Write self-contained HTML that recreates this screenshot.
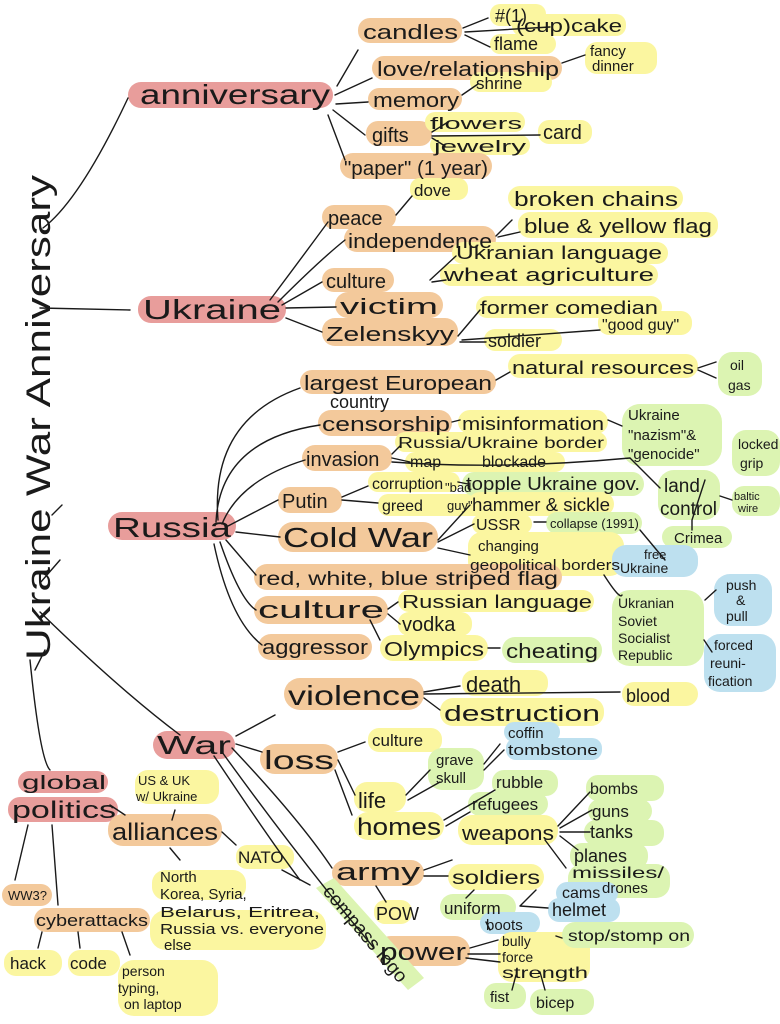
<!DOCTYPE html>
<html><head><meta charset="utf-8"><style>
html,body{margin:0;padding:0;background:#fff;width:780px;height:1024px;overflow:hidden}
svg{display:block}
text{font-family:"Liberation Sans",sans-serif;fill:#1a1a1a}
.p{fill:#e89d9b}.o{fill:#f3c99b}.y{fill:#fbf6a0}.g{fill:#dcf4b2}.b{fill:#bde0ef}
path{fill:none;stroke:#1a1a1a;stroke-width:1.4;stroke-linecap:round}
</style></head><body>
<svg width="780" height="1024" viewBox="0 0 780 1024" xmlns="http://www.w3.org/2000/svg">
<!-- highlights -->
<g>
<rect class="p" x="128" y="82" width="205" height="26" rx="13"/>
<rect class="o" x="358" y="18" width="104" height="25" rx="12"/>
<rect class="y" x="490" y="4" width="56" height="22" rx="10"/>
<rect class="y" x="512" y="14" width="114" height="22" rx="10"/>
<rect class="y" x="490" y="34" width="66" height="20" rx="10"/>
<rect class="o" x="372" y="56" width="190" height="24" rx="12"/>
<rect class="y" x="585" y="42" width="72" height="32" rx="12"/>
<rect class="o" x="368" y="88" width="94" height="22" rx="11"/>
<rect class="y" x="470" y="72" width="82" height="20" rx="10"/>
<rect class="o" x="366" y="121" width="66" height="25" rx="12"/>
<rect class="y" x="425" y="112" width="100" height="20" rx="10"/>
<rect class="y" x="430" y="135" width="100" height="20" rx="10"/>
<rect class="y" x="538" y="120" width="54" height="24" rx="11"/>
<rect class="o" x="340" y="153" width="152" height="26" rx="13"/>
<rect class="y" x="410" y="178" width="58" height="22" rx="10"/>
<rect class="o" x="322" y="205" width="74" height="24" rx="12"/>
<rect class="o" x="344" y="226" width="152" height="26" rx="13"/>
<rect class="y" x="508" y="186" width="175" height="24" rx="12"/>
<rect class="y" x="518" y="212" width="200" height="26" rx="12"/>
<rect class="o" x="322" y="268" width="72" height="24" rx="12"/>
<rect class="y" x="452" y="242" width="216" height="22" rx="11"/>
<rect class="y" x="440" y="264" width="218" height="22" rx="11"/>
<rect class="o" x="335" y="292" width="108" height="26" rx="13"/>
<rect class="o" x="322" y="318" width="136" height="28" rx="13"/>
<rect class="y" x="476" y="296" width="186" height="22" rx="11"/>
<rect class="y" x="598" y="311" width="94" height="24" rx="11"/>
<rect class="y" x="484" y="329" width="78" height="22" rx="11"/>
<rect class="p" x="138" y="296" width="148" height="27" rx="13"/>
<!-- Russia -->
<rect class="o" x="300" y="370" width="196" height="24" rx="12"/>
<rect class="y" x="508" y="354" width="190" height="24" rx="12"/>
<rect class="g" x="718" y="352" width="44" height="44" rx="14"/>
<rect class="o" x="318" y="410" width="134" height="26" rx="13"/>
<rect class="y" x="458" y="410" width="150" height="24" rx="12"/>
<rect class="g" x="622" y="404" width="100" height="62" rx="18"/>
<rect class="o" x="302" y="445" width="90" height="26" rx="13"/>
<rect class="y" x="395" y="432" width="212" height="20" rx="10"/>
<rect class="y" x="405" y="452" width="160" height="20" rx="10"/>
<rect class="y" x="368" y="472" width="92" height="20" rx="10"/>
<rect class="y" x="378" y="494" width="110" height="22" rx="10"/>
<rect class="g" x="462" y="472" width="182" height="24" rx="12"/>
<rect class="o" x="278" y="487" width="64" height="26" rx="12"/>
<rect class="g" x="658" y="470" width="62" height="50" rx="16"/>
<rect class="g" x="732" y="430" width="48" height="46" rx="14"/>
<rect class="g" x="732" y="486" width="48" height="30" rx="12"/>
<rect class="p" x="108" y="512" width="128" height="28" rx="14"/>
<rect class="o" x="278" y="522" width="160" height="30" rx="15"/>
<rect class="y" x="468" y="492" width="146" height="24" rx="12"/>
<rect class="y" x="472" y="514" width="60" height="20" rx="10"/>
<rect class="g" x="546" y="512" width="96" height="22" rx="11"/>
<rect class="y" x="468" y="532" width="156" height="44" rx="14"/>
<rect class="g" x="662" y="526" width="70" height="22" rx="11"/>
<rect class="b" x="612" y="545" width="86" height="32" rx="14"/>
<rect class="o" x="254" y="564" width="308" height="26" rx="13"/>
<rect class="o" x="254" y="596" width="134" height="28" rx="14"/>
<rect class="y" x="398" y="590" width="196" height="22" rx="11"/>
<rect class="y" x="398" y="612" width="74" height="24" rx="11"/>
<rect class="o" x="258" y="634" width="114" height="26" rx="13"/>
<rect class="y" x="380" y="635" width="108" height="26" rx="13"/>
<rect class="g" x="502" y="637" width="100" height="26" rx="13"/>
<rect class="g" x="612" y="590" width="92" height="76" rx="18"/>
<rect class="b" x="714" y="574" width="58" height="52" rx="16"/>
<rect class="b" x="704" y="634" width="72" height="58" rx="16"/>
<!-- War -->
<rect class="o" x="284" y="678" width="140" height="32" rx="16"/>
<rect class="y" x="462" y="670" width="86" height="26" rx="12"/>
<rect class="y" x="440" y="698" width="164" height="28" rx="13"/>
<rect class="y" x="622" y="682" width="76" height="24" rx="12"/>
<rect class="p" x="153" y="731" width="82" height="28" rx="14"/>
<rect class="o" x="260" y="744" width="78" height="30" rx="15"/>
<rect class="y" x="368" y="728" width="74" height="24" rx="11"/>
<rect class="b" x="504" y="722" width="56" height="20" rx="10"/>
<rect class="b" x="506" y="738" width="96" height="22" rx="10"/>
<rect class="g" x="428" y="748" width="56" height="42" rx="14"/>
<rect class="y" x="354" y="782" width="52" height="30" rx="13"/>
<rect class="g" x="492" y="770" width="66" height="26" rx="12"/>
<rect class="g" x="468" y="792" width="80" height="24" rx="12"/>
<rect class="y" x="354" y="812" width="90" height="28" rx="14"/>
<rect class="y" x="458" y="815" width="100" height="30" rx="14"/>
<rect class="g" x="586" y="775" width="78" height="26" rx="12"/>
<rect class="g" x="588" y="799" width="64" height="24" rx="12"/>
<rect class="g" x="584" y="820" width="80" height="26" rx="12"/>
<rect class="g" x="570" y="843" width="78" height="26" rx="12"/>
<rect class="g" x="568" y="864" width="102" height="34" rx="14"/>
<rect class="o" x="332" y="860" width="92" height="26" rx="13"/>
<rect class="y" x="448" y="864" width="96" height="26" rx="13"/>
<rect class="b" x="556" y="882" width="62" height="22" rx="11"/>
<rect class="g" x="440" y="894" width="76" height="26" rx="13"/>
<rect class="b" x="548" y="898" width="72" height="24" rx="11"/>
<rect class="b" x="480" y="912" width="60" height="22" rx="11"/>
<rect class="y" x="374" y="900" width="38" height="24" rx="11"/>
<rect class="o" x="376" y="936" width="94" height="30" rx="15"/>
<rect class="y" x="498" y="932" width="92" height="50" rx="14"/>
<rect class="g" x="562" y="922" width="132" height="26" rx="13"/>
<rect class="g" x="484" y="983" width="42" height="26" rx="12"/>
<rect class="g" x="530" y="989" width="64" height="26" rx="12"/>
<polygon class="g" points="316,888 334,878 424,978 408,990"/>
<!-- global politics -->
<rect class="p" x="18" y="771" width="90" height="22" rx="11"/>
<rect class="p" x="8" y="797" width="110" height="25" rx="12"/>
<rect class="y" x="135" y="770" width="84" height="34" rx="13"/>
<rect class="o" x="108" y="814" width="114" height="32" rx="15"/>
<rect class="y" x="236" y="845" width="58" height="24" rx="11"/>
<rect class="y" x="152" y="870" width="94" height="30" rx="13"/>
<rect class="y" x="150" y="910" width="176" height="40" rx="16"/>
<rect class="o" x="2" y="884" width="50" height="22" rx="11"/>
<rect class="o" x="34" y="908" width="116" height="24" rx="12"/>
<rect class="y" x="4" y="950" width="58" height="26" rx="12"/>
<rect class="y" x="68" y="950" width="52" height="26" rx="12"/>
<rect class="y" x="118" y="960" width="100" height="56" rx="16"/>
</g>
<!-- lines -->
<g>
<path d="M43 228 Q80 200 128 98"/>
<path d="M40 308 L130 310"/>
<path d="M52 515 L62 505 M40 583 L60 560"/>
<path d="M35 670 L45 650 M30 660 Q40 760 50 770"/>
<path d="M40 612 Q120 690 180 735"/>
<path d="M337 86 L358 50 M335 95 L372 78 M336 104 L368 102 M333 110 L365 135 M328 115 L345 160"/>
<path d="M463 28 L488 18 M465 32 L550 27 M465 35 L490 47 M562 63 L585 55 M462 95 L478 84 M432 132 L448 122 M432 136 L540 135 M432 138 L445 146"/>
<path d="M270 300 Q300 260 328 222 M278 302 Q320 260 345 240 M282 305 L322 282 M286 308 L336 307 M286 318 L322 332"/>
<path d="M396 215 L412 196 M496 236 L512 220 M498 237 L520 232 M430 280 L456 256 M432 282 L446 280 M458 336 L480 310 M462 340 L600 330 M460 342 L486 342"/>
<path d="M218 520 Q210 420 300 388 M216 522 Q220 440 320 425 M222 524 Q240 480 305 460 M228 526 L278 500 M236 532 L280 537 M226 540 L256 575 M220 542 Q240 600 256 610 M214 544 Q230 620 262 645"/>
<path d="M496 380 L510 372 M698 368 L716 362 M698 370 L716 378 M452 422 L460 420 M608 420 L622 426 M392 454 L400 446 M392 458 L410 462 M392 462 Q500 470 630 458 L660 488 M342 497 L368 486 M342 500 L378 503 M458 482 L468 484 M438 540 L470 505 M438 542 L474 524 M438 548 L470 555 M534 522 L546 522 M640 530 L665 560 M692 520 L705 480 M720 496 L732 500 M692 520 L692 530 M604 575 Q620 600 622 595 M705 600 L716 590 M704 640 L712 652"/>
<path d="M388 609 L398 602 M388 614 L400 624 M370 620 L380 640 M488 648 L500 648"/>
<path d="M236 736 L275 715 M424 692 L460 686 M424 694 L620 692 M424 698 L440 710 M236 744 L262 752 M338 752 L365 742 M338 760 L355 795 M335 770 L352 815 M406 795 L430 770 M408 800 L440 782 M444 820 L495 790 M446 826 L470 812 M558 826 L590 792 M560 828 L592 810 M560 832 L590 832 M560 836 L578 850 M545 840 L566 868 M484 764 L500 744 M484 770 L504 750"/>
<path d="M232 748 Q300 820 332 868 M222 752 Q300 860 374 948 M214 756 Q270 840 300 880 M424 870 L452 860 M424 876 L448 876 M376 886 L386 902 M474 890 L466 898 M520 906 L536 890 M520 906 L548 908 M486 922 L490 930 M470 948 L498 940 M468 954 L500 954 M466 958 L500 962 M556 936 L562 938 M516 975 L512 990 M540 972 L545 990"/>
<path d="M110 805 L125 815 M175 810 L172 820 M170 848 L180 860 M222 832 L236 845 M282 870 L310 885"/>
<path d="M28 825 L15 880 M52 825 L58 905 M42 932 L38 948 M78 932 L80 948 M122 932 L130 955"/>
</g>
<!-- title -->
<text transform="translate(50,660) rotate(-90)" font-size="34" textLength="485" lengthAdjust="spacingAndGlyphs">Ukraine War Anniversary</text>
<!-- labels -->
<g font-size="20">
<text x="140" y="104" font-size="28" textLength="190" lengthAdjust="spacingAndGlyphs">anniversary</text>
<text x="363" y="39" textLength="95" lengthAdjust="spacingAndGlyphs">candles</text>
<text x="495" y="22" font-size="18">#(1)</text>
<text x="516" y="32" font-size="18" textLength="106" lengthAdjust="spacingAndGlyphs">(cup)cake</text>
<text x="494" y="50" font-size="18">flame</text>
<text x="377" y="76" textLength="182" lengthAdjust="spacingAndGlyphs">love/relationship</text>
<text x="590" y="56" font-size="15">fancy</text>
<text x="592" y="71" font-size="15">dinner</text>
<text x="373" y="107" textLength="86" lengthAdjust="spacingAndGlyphs">memory</text>
<text x="476" y="89" font-size="17">shrine</text>
<text x="372" y="142">gifts</text>
<text x="430" y="129" font-size="17" textLength="92" lengthAdjust="spacingAndGlyphs">flowers</text>
<text x="434" y="152" font-size="17" textLength="92" lengthAdjust="spacingAndGlyphs">jewelry</text>
<text x="543" y="139">card</text>
<text x="344" y="175" textLength="144" lengthAdjust="spacingAndGlyphs">"paper" (1 year)</text>
<text x="414" y="196" font-size="17">dove</text>
<text x="328" y="225">peace</text>
<text x="348" y="248" textLength="144" lengthAdjust="spacingAndGlyphs">independence</text>
<text x="514" y="206" textLength="164" lengthAdjust="spacingAndGlyphs">broken chains</text>
<text x="524" y="233" textLength="188" lengthAdjust="spacingAndGlyphs">blue &amp; yellow flag</text>
<text x="326" y="288">culture</text>
<text x="456" y="259" font-size="18" textLength="206" lengthAdjust="spacingAndGlyphs">Ukranian language</text>
<text x="444" y="281" font-size="18" textLength="210" lengthAdjust="spacingAndGlyphs">wheat agriculture</text>
<text x="340" y="314" font-size="22" textLength="98" lengthAdjust="spacingAndGlyphs">victim</text>
<text x="326" y="341" textLength="128" lengthAdjust="spacingAndGlyphs">Zelenskyy</text>
<text x="480" y="314" font-size="18" textLength="178" lengthAdjust="spacingAndGlyphs">former comedian</text>
<text x="602" y="330" font-size="16">"good guy"</text>
<text x="488" y="347" font-size="18">soldier</text>
<text x="143" y="319" font-size="28" textLength="138" lengthAdjust="spacingAndGlyphs">Ukraine</text>
<text x="304" y="390" textLength="188" lengthAdjust="spacingAndGlyphs">largest European</text>
<text x="330" y="408" font-size="18">country</text>
<text x="512" y="374" font-size="18" textLength="182" lengthAdjust="spacingAndGlyphs">natural resources</text>
<text x="730" y="370" font-size="14">oil</text>
<text x="728" y="390" font-size="14">gas</text>
<text x="322" y="431" textLength="128" lengthAdjust="spacingAndGlyphs">censorship</text>
<text x="462" y="430" font-size="18" textLength="142" lengthAdjust="spacingAndGlyphs">misinformation</text>
<text x="628" y="420" font-size="15">Ukraine</text>
<text x="628" y="440" font-size="15">"nazism"&amp;</text>
<text x="628" y="459" font-size="15">"genocide"</text>
<text x="306" y="466">invasion</text>
<text x="398" y="448" font-size="16" textLength="206" lengthAdjust="spacingAndGlyphs">Russia/Ukraine border</text>
<text x="410" y="467" font-size="16">map</text>
<text x="482" y="467" font-size="16">blockade</text>
<text x="282" y="508">Putin</text>
<text x="372" y="489" font-size="16">corruption</text>
<text x="382" y="511" font-size="16">greed</text>
<text x="445" y="492" font-size="13">"bad</text>
<text x="447" y="510" font-size="13">guy"</text>
<text x="466" y="490" font-size="18" textLength="174" lengthAdjust="spacingAndGlyphs">topple Ukraine gov.</text>
<text x="664" y="492" font-size="19">land</text>
<text x="660" y="515" font-size="19">control</text>
<text x="738" y="449" font-size="14">locked</text>
<text x="740" y="468" font-size="14">grip</text>
<text x="734" y="500" font-size="11">baltic</text>
<text x="738" y="512" font-size="11">wire</text>
<text x="113" y="537" font-size="28" textLength="118" lengthAdjust="spacingAndGlyphs">Russia</text>
<text x="283" y="547" font-size="28" textLength="150" lengthAdjust="spacingAndGlyphs">Cold War</text>
<text x="472" y="511" font-size="18" textLength="138" lengthAdjust="spacingAndGlyphs">hammer &amp; sickle</text>
<text x="476" y="530" font-size="16">USSR</text>
<text x="550" y="528" font-size="13">collapse (1991)</text>
<text x="478" y="551" font-size="15">changing</text>
<text x="470" y="570" font-size="15" textLength="150" lengthAdjust="spacingAndGlyphs">geopolitical borders</text>
<text x="674" y="543" font-size="15">Crimea</text>
<text x="644" y="559" font-size="13">free</text>
<text x="620" y="573" font-size="14">Ukraine</text>
<text x="258" y="585" font-size="19" textLength="300" lengthAdjust="spacingAndGlyphs">red, white, blue striped flag</text>
<text x="258" y="618" font-size="24" textLength="126" lengthAdjust="spacingAndGlyphs">culture</text>
<text x="402" y="608" font-size="18" textLength="190" lengthAdjust="spacingAndGlyphs">Russian language</text>
<text x="402" y="631">vodka</text>
<text x="262" y="654" textLength="106" lengthAdjust="spacingAndGlyphs">aggressor</text>
<text x="384" y="656" textLength="100" lengthAdjust="spacingAndGlyphs">Olympics</text>
<text x="506" y="658" textLength="92" lengthAdjust="spacingAndGlyphs">cheating</text>
<text x="618" y="608" font-size="14">Ukranian</text>
<text x="618" y="626" font-size="14">Soviet</text>
<text x="618" y="643" font-size="14">Socialist</text>
<text x="618" y="660" font-size="14">Republic</text>
<text x="726" y="590" font-size="14">push</text>
<text x="736" y="605" font-size="14">&amp;</text>
<text x="726" y="621" font-size="14">pull</text>
<text x="714" y="650" font-size="14">forced</text>
<text x="710" y="668" font-size="14">reuni-</text>
<text x="708" y="686" font-size="14">fication</text>
<text x="288" y="705" font-size="28" textLength="132" lengthAdjust="spacingAndGlyphs">violence</text>
<text x="466" y="692" font-size="22">death</text>
<text x="444" y="721" font-size="22" textLength="156" lengthAdjust="spacingAndGlyphs">destruction</text>
<text x="626" y="702" font-size="18">blood</text>
<text x="157" y="754" font-size="26" textLength="74" lengthAdjust="spacingAndGlyphs">War</text>
<text x="264" y="769" font-size="26" textLength="70" lengthAdjust="spacingAndGlyphs">loss</text>
<text x="372" y="746" font-size="17">culture</text>
<text x="508" y="738" font-size="15">coffin</text>
<text x="508" y="755" font-size="15" textLength="90" lengthAdjust="spacingAndGlyphs">tombstone</text>
<text x="436" y="765" font-size="15">grave</text>
<text x="436" y="783" font-size="15">skull</text>
<text x="358" y="808" font-size="22">life</text>
<text x="496" y="788" font-size="17">rubble</text>
<text x="472" y="810" font-size="17">refugees</text>
<text x="357" y="835" font-size="24" textLength="84" lengthAdjust="spacingAndGlyphs">homes</text>
<text x="462" y="840" textLength="92" lengthAdjust="spacingAndGlyphs">weapons</text>
<text x="590" y="794" font-size="16">bombs</text>
<text x="592" y="817" font-size="17">guns</text>
<text x="590" y="838" font-size="18">tanks</text>
<text x="574" y="862" font-size="18">planes</text>
<text x="572" y="878" font-size="16" textLength="92" lengthAdjust="spacingAndGlyphs">missiles/</text>
<text x="602" y="893" font-size="15">drones</text>
<text x="336" y="880" font-size="24" textLength="84" lengthAdjust="spacingAndGlyphs">army</text>
<text x="452" y="884" font-size="19" textLength="88" lengthAdjust="spacingAndGlyphs">soldiers</text>
<text x="562" y="898" font-size="16">cams</text>
<text x="444" y="914" font-size="17">uniform</text>
<text x="552" y="916" font-size="18">helmet</text>
<text x="486" y="930" font-size="15">boots</text>
<text x="376" y="920" font-size="18">POW</text>
<text x="380" y="960" font-size="24" textLength="86" lengthAdjust="spacingAndGlyphs">power</text>
<text x="502" y="946" font-size="14">bully</text>
<text x="502" y="962" font-size="14">force</text>
<text x="502" y="978" font-size="16" textLength="86" lengthAdjust="spacingAndGlyphs">strength</text>
<text x="568" y="941" font-size="16" textLength="122" lengthAdjust="spacingAndGlyphs">stop/stomp on</text>
<text x="490" y="1002" font-size="15">fist</text>
<text x="536" y="1008" font-size="16">bicep</text>
<text transform="translate(322,892) rotate(50)" font-size="19" textLength="120" lengthAdjust="spacingAndGlyphs">compass logo</text>
<text x="22" y="789" font-size="19" textLength="84" lengthAdjust="spacingAndGlyphs">global</text>
<text x="12" y="818" font-size="24" textLength="104" lengthAdjust="spacingAndGlyphs">politics</text>
<text x="138" y="785" font-size="13">US &amp; UK</text>
<text x="136" y="801" font-size="13">w/ Ukraine</text>
<text x="112" y="840" font-size="24" textLength="106" lengthAdjust="spacingAndGlyphs">alliances</text>
<text x="238" y="863" font-size="17">NATO</text>
<text x="160" y="882" font-size="15">North</text>
<text x="160" y="899" font-size="15">Korea, Syria,</text>
<text x="160" y="917" font-size="15" textLength="160" lengthAdjust="spacingAndGlyphs">Belarus, Eritrea,</text>
<text x="160" y="934" font-size="15" textLength="164" lengthAdjust="spacingAndGlyphs">Russia vs. everyone</text>
<text x="164" y="950" font-size="15">else</text>
<text x="8" y="900" font-size="13">WW3?</text>
<text x="36" y="926" font-size="17" textLength="112" lengthAdjust="spacingAndGlyphs">cyberattacks</text>
<text x="10" y="969" font-size="17">hack</text>
<text x="70" y="969" font-size="17">code</text>
<text x="122" y="976" font-size="14">person</text>
<text x="118" y="993" font-size="14">typing,</text>
<text x="124" y="1009" font-size="14">on laptop</text>
</g>
</svg>
</body></html>
